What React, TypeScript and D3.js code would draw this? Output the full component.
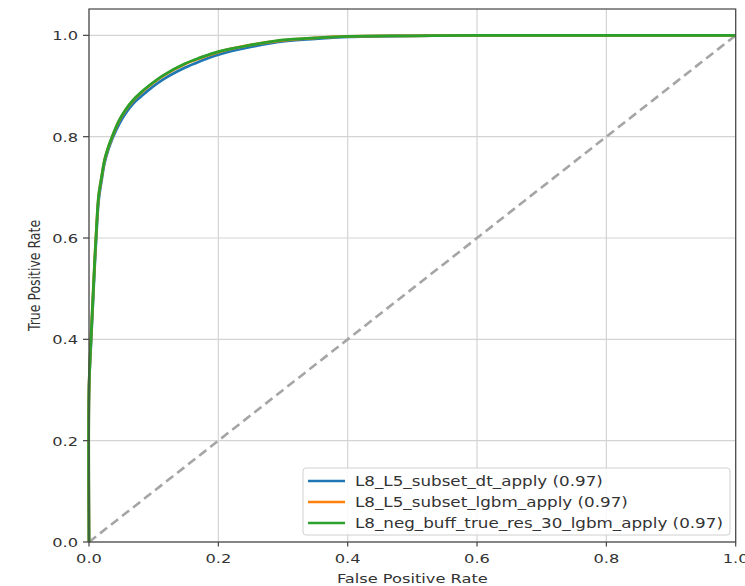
import * as d3 from 'd3'
import React, { useEffect, useRef } from 'react'

// ROC data
const fpr = [0, 0, 0.003, 0.006, 0.009, 0.012, 0.015, 0.02, 0.024, 0.03, 0.036, 0.047, 0.057, 0.068, 0.08, 0.093, 0.116, 0.148, 0.172, 0.2, 0.25, 0.3, 0.35, 0.4, 0.5, 0.6, 0.8, 1.0]
const tprDt = [0, 0.3, 0.39, 0.47, 0.55, 0.62, 0.675, 0.718, 0.748, 0.775, 0.796, 0.826, 0.847, 0.865, 0.879, 0.893, 0.914, 0.936, 0.949, 0.962, 0.977, 0.988, 0.993, 0.997, 0.999, 1.0, 1.0, 1.0]
const tprLgbm = [0, 0.3, 0.4, 0.48, 0.56, 0.63, 0.683, 0.724, 0.753, 0.779, 0.8, 0.832, 0.853, 0.871, 0.886, 0.9, 0.921, 0.943, 0.955, 0.967, 0.981, 0.99, 0.995, 0.998, 0.999, 1.0, 1.0, 1.0]
const tprNeg = [0, 0.3, 0.4, 0.48, 0.56, 0.63, 0.685, 0.725, 0.754, 0.78, 0.801, 0.833, 0.854, 0.872, 0.887, 0.901, 0.922, 0.944, 0.956, 0.968, 0.981, 0.991, 0.995, 0.998, 0.999, 1.0, 1.0, 1.0]

const labels = [
  'L8_L5_subset_dt_apply (0.97)',
  'L8_L5_subset_lgbm_apply (0.97)',
  'L8_neg_buff_true_res_30_lgbm_apply (0.97)'
]
const colors = ['#1f77b4', '#ff7f0e', '#2ca02c']
const ticks = [0, 0.2, 0.4, 0.6, 0.8, 1.0]

export default function App() {
  const ref = useRef<SVGSVGElement>(null)

  useEffect(() => {
    const svg = d3.select(ref.current)
    svg.selectAll('*').remove()

    const W = 745
    const H = 586
    const sx = 1.25 // picture is stretched horizontally
    const font = 'DejaVu Sans, sans-serif'

    const x = d3.scaleLinear().domain([0, 1]).range([89, 735.7])
    const y = d3.scaleLinear().domain([0, 1.052]).range([542, 9])

    svg.append('rect').attr('width', W).attr('height', H).attr('fill', 'white')

    //grid
    const grid = svg.append('g').attr('stroke', '#d4d4d4').attr('stroke-width', 1.2)
    ticks.forEach(t => {
      grid.append('line').attr('x1', x(t)).attr('x2', x(t)).attr('y1', y(0)).attr('y2', y(1.052))
      grid.append('line').attr('x1', x(0)).attr('x2', x(1)).attr('y1', y(t)).attr('y2', y(t))
    })

    //chance line
    svg
      .append('line')
      .attr('x1', x(0))
      .attr('y1', y(0))
      .attr('x2', x(1))
      .attr('y2', y(1))
      .attr('stroke', '#a5a5a5')
      .attr('stroke-width', 2.6)
      .attr('stroke-dasharray', '9,5')

    //curves
    const line = d3
      .line<number>()
      .x((d, i) => x(fpr[i]))
      .y(d => y(d))
      .curve(d3.curveCatmullRom.alpha(0.5))
    ;[tprDt, tprLgbm, tprNeg].forEach((s, k) => {
      svg
        .append('path')
        .attr('d', line(s))
        .attr('fill', 'none')
        .attr('stroke', colors[k])
        .attr('stroke-width', 2.8)
        .attr('stroke-linejoin', 'round')
    })

    //frame
    svg
      .append('rect')
      .attr('x', x(0))
      .attr('y', y(1.052))
      .attr('width', x(1) - x(0))
      .attr('height', y(0) - y(1.052))
      .attr('fill', 'none')
      .attr('stroke', '#444')
      .attr('stroke-width', 1.2)

    const text = (tx: number, ty: number, s: string, anchor: string, size = 13) =>
      svg
        .append('text')
        .attr('transform', `translate(${tx},${ty}) scale(${sx},1)`)
        .attr('text-anchor', anchor)
        .attr('font-family', font)
        .attr('font-size', size)
        .attr('fill', '#333')
        .text(s)

    //ticks
    ticks.forEach(t => {
      svg.append('line').attr('x1', x(t)).attr('x2', x(t)).attr('y1', y(0)).attr('y2', y(0) + 4.5).attr('stroke', '#444').attr('stroke-width', 1.2)
      svg.append('line').attr('x1', x(0) - 6).attr('x2', x(0)).attr('y1', y(t)).attr('y2', y(t)).attr('stroke', '#444').attr('stroke-width', 1.2)
      text(x(t), 563, t.toFixed(1), 'middle')
      text(78, y(t) + 5, t.toFixed(1), 'end')
    })

    //axis labels
    text((x(0) + x(1)) / 2, 583, 'False Positive Rate', 'middle')
    svg
      .append('text')
      .attr('transform', `translate(40,${(y(0) + y(1.052)) / 2}) rotate(-90) scale(1,${sx})`)
      .attr('text-anchor', 'middle')
      .attr('font-family', font)
      .attr('font-size', 12.5)
      .attr('fill', '#333')
      .text('True Positive Rate')

    //legend
    svg
      .append('rect')
      .attr('x', 303)
      .attr('y', 468)
      .attr('width', 427)
      .attr('height', 67)
      .attr('rx', 3)
      .attr('fill', 'white')
      .attr('fill-opacity', 0.85)
      .attr('stroke', '#d0d0d0')
    labels.forEach((l, k) => {
      const ly = 481 + k * 21
      svg.append('line').attr('x1', 308).attr('x2', 345).attr('y1', ly).attr('y2', ly).attr('stroke', colors[k]).attr('stroke-width', 2.7)
      text(355, ly + 5, l, 'start', 13.4)
    })
  }, [])

  return <svg ref={ref} width="745" height="586" style={{ position: 'absolute', left: 0, top: 0 }} />
}
